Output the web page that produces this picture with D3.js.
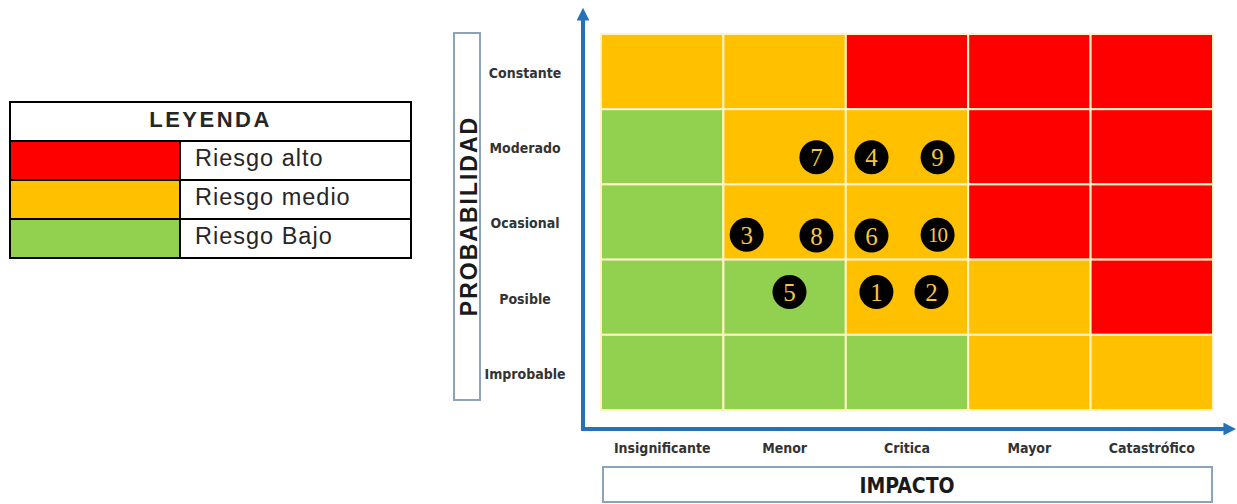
<!DOCTYPE html>
<html>
<head>
<meta charset="utf-8">
<script src="https://cdn.jsdelivr.net/npm/d3@7"></script>
<style>
  body { margin: 0; background: #fff; }
  svg { display: block; }
</style>
</head>
<body>
<script>
// data
var impactos = ["Insignificante", "Menor", "Critica", "Mayor", "Catastrófico"];
var probabilidades = ["Constante", "Moderado", "Ocasional", "Posible", "Improbable"];
// nivel de riesgo por fila (de arriba abajo), columna por impacto: A = alto, M = medio, B = bajo
var niveles = [
    ["M", "M", "A", "A", "A"],
    ["B", "M", "M", "A", "A"],
    ["B", "M", "M", "A", "A"],
    ["B", "B", "M", "M", "A"],
    ["B", "B", "B", "M", "M"]
];
var legendLabels = ["Riesgo alto", "Riesgo medio", "Riesgo Bajo"];
var legendKeys = ["A", "M", "B"];
// riesgos numerados: posicion continua en impacto (0-5) y probabilidad (0-5)
var riesgoIds = [1, 2, 3, 4, 5, 6, 7, 8, 9, 10];
var riesgoImpacto = [2.25, 2.70, 1.19, 2.21, 1.54, 2.21, 1.76, 1.76, 2.75, 2.75];
var riesgoProb = [1.57, 1.57, 2.33, 3.36, 1.57, 2.32, 3.36, 2.32, 3.36, 2.33];

var w = 1237,
    h = 504;

var colores = { A: "#FF0000", M: "#FFC000", B: "#92D050" };
var azul = "#2473B8";
var narrow = "'Liberation Sans Narrow', 'DejaVu Sans Condensed', 'Liberation Sans', sans-serif";

var svg = d3.select("body")
    .append("svg")
    .attr("width", w)
    .attr("height", h);

// ---- leyenda ----
var lgX = 10, lgW = 401, lgSplit = 180;
var lgY = d3.scaleBand()
    .domain(["head"].concat(legendLabels))
    .range([102, 258]);

var leg = svg.append("g");
leg.append("rect")
    .attr("x", lgX).attr("y", lgY("head"))
    .attr("width", lgW).attr("height", lgY.bandwidth())
    .attr("fill", "#fff");
leg.append("text")
    .attr("x", lgX + lgW / 2)
    .attr("y", lgY("head") + 25)
    .attr("text-anchor", "middle")
    .style("font-family", "'Liberation Sans', Arial, sans-serif")
    .style("font-weight", "bold")
    .style("font-size", "22px")
    .style("letter-spacing", "2.5px")
    .attr("fill", "#262626")
    .text("LEYENDA");

var rows = leg.selectAll("g.row")
    .data(legendLabels)
    .enter()
    .append("g")
    .attr("class", "row");
rows.append("rect")
    .attr("x", lgX).attr("y", function(d) { return lgY(d); })
    .attr("width", lgSplit - lgX).attr("height", lgY.bandwidth())
    .attr("fill", function(d, i) { return colores[legendKeys[i]]; });
rows.append("rect")
    .attr("x", lgSplit).attr("y", function(d) { return lgY(d); })
    .attr("width", lgX + lgW - lgSplit).attr("height", lgY.bandwidth())
    .attr("fill", "#fff");
rows.append("text")
    .attr("x", lgSplit + 15)
    .attr("y", function(d) { return lgY(d) + 25; })
    .style("font-family", "'Liberation Sans', Arial, sans-serif")
    .style("font-size", "23.5px")
    .style("letter-spacing", "1px")
    .attr("fill", "#262626")
    .text(function(d) { return d; });

// bordes de la tabla
leg.append("rect")
    .attr("x", lgX).attr("y", 102).attr("width", lgW).attr("height", 156)
    .attr("fill", "none").attr("stroke", "#000").attr("stroke-width", 2);
leg.selectAll("line.h")
    .data(legendLabels)
    .enter().append("line")
    .attr("x1", lgX).attr("x2", lgX + lgW)
    .attr("y1", function(d) { return lgY(d); })
    .attr("y2", function(d) { return lgY(d); })
    .attr("stroke", "#000").attr("stroke-width", 2);
leg.append("line")
    .attr("x1", lgSplit).attr("x2", lgSplit)
    .attr("y1", lgY(legendLabels[0])).attr("y2", 258)
    .attr("stroke", "#000").attr("stroke-width", 2);

// ---- matriz ----
var x = d3.scaleBand().domain(impactos).range([601, 1213]);
var y = d3.scaleBand().domain(probabilidades).range([34, 410]);
var xv = d3.scaleLinear().domain([0, 5]).range([601, 1213]);
var yv = d3.scaleLinear().domain([0, 5]).range([410, 34]);

var celdas = [];
niveles.forEach(function(fila, i) {
    fila.forEach(function(n, j) {
        celdas.push({ prob: probabilidades[i], imp: impactos[j], nivel: n });
    });
});

svg.append("g")
    .selectAll("rect")
    .data(celdas)
    .enter()
    .append("rect")
    .attr("x", function(d) { return x(d.imp); })
    .attr("y", function(d) { return y(d.prob); })
    .attr("width", x.bandwidth())
    .attr("height", y.bandwidth())
    .attr("fill", function(d) { return colores[d.nivel]; })
    .attr("stroke", "#FFF3C4")
    .attr("stroke-width", 2);

// flechas de los ejes
var defs = svg.append("defs");
defs.append("marker")
    .attr("id", "flecha")
    .attr("viewBox", "0 0 10 10")
    .attr("refX", 2).attr("refY", 5)
    .attr("markerWidth", 3.2).attr("markerHeight", 3.2)
    .attr("orient", "auto")
    .append("path")
    .attr("d", "M0,0 L10,5 L0,10 Z")
    .attr("fill", azul);

svg.append("path")
    .attr("d", "M583,430 L583,18")
    .attr("stroke", azul).attr("stroke-width", 4).attr("fill", "none")
    .attr("marker-end", "url(#flecha)");
svg.append("path")
    .attr("d", "M581,429 L1226,429")
    .attr("stroke", azul).attr("stroke-width", 4).attr("fill", "none")
    .attr("marker-end", "url(#flecha)");

// etiquetas de los ejes
var xAxis = svg.append("g")
    .attr("transform", "translate(0,443)")
    .call(d3.axisBottom(x).tickSize(0).tickPadding(0));
xAxis.select(".domain").remove();
xAxis.selectAll("text")
    .attr("dy", "0.71em")
    .style("font-family", narrow)
    .style("font-size", "14px")
    .style("font-weight", "bold")
    .attr("fill", "#333");

var yAxis = svg.append("g")
    .attr("transform", "translate(525,2)")
    .call(d3.axisLeft(y).tickSize(0).tickPadding(0));
yAxis.select(".domain").remove();
yAxis.selectAll("text")
    .attr("text-anchor", "middle")
    .style("font-family", narrow)
    .style("font-size", "14px")
    .style("font-weight", "bold")
    .attr("fill", "#333");

// cajas de titulo
svg.append("rect")
    .attr("x", 454).attr("y", 33).attr("width", 26).attr("height", 367)
    .attr("fill", "#fff").attr("stroke", "#8CA3BD").attr("stroke-width", 2);
svg.append("text")
    .attr("transform", "translate(477,216) rotate(-90)")
    .attr("text-anchor", "middle")
    .style("font-family", "'Liberation Sans', Arial, sans-serif")
    .style("font-weight", "bold")
    .style("font-size", "23px")
    .style("letter-spacing", "2px")
    .attr("fill", "#1a1a1a")
    .text("PROBABILIDAD");

svg.append("rect")
    .attr("x", 603).attr("y", 467).attr("width", 609).attr("height", 35)
    .attr("fill", "#fff").attr("stroke", "#8CA3BD").attr("stroke-width", 2);
svg.append("text")
    .attr("x", 907).attr("y", 493)
    .attr("text-anchor", "middle")
    .style("font-family", narrow)
    .style("font-weight", "bold")
    .style("font-size", "21px")
    .attr("fill", "#1a1a1a")
    .text("IMPACTO");

// riesgos numerados
var riesgos = riesgoIds.map(function(id, i) {
    return { id: id, imp: riesgoImpacto[i], prob: riesgoProb[i] };
});
var marcas = svg.append("g")
    .selectAll("g")
    .data(riesgos)
    .enter()
    .append("g")
    .attr("transform", function(d) {
        return "translate(" + xv(d.imp) + "," + yv(d.prob) + ")";
    });
marcas.append("circle")
    .attr("r", 17)
    .attr("fill", "#000");
marcas.append("text")
    .attr("text-anchor", "middle")
    .attr("dy", "0.36em")
    .style("font-family", "'Liberation Serif', 'DejaVu Serif', serif")
    .style("font-size", function(d) { return d.id > 9 ? "21px" : "25px"; })
    .style("letter-spacing", function(d) { return d.id > 9 ? "-1px" : "0"; })
    .attr("fill", "#F7C545")
    .text(function(d) { return d.id; });
</script>
</body>
</html>
